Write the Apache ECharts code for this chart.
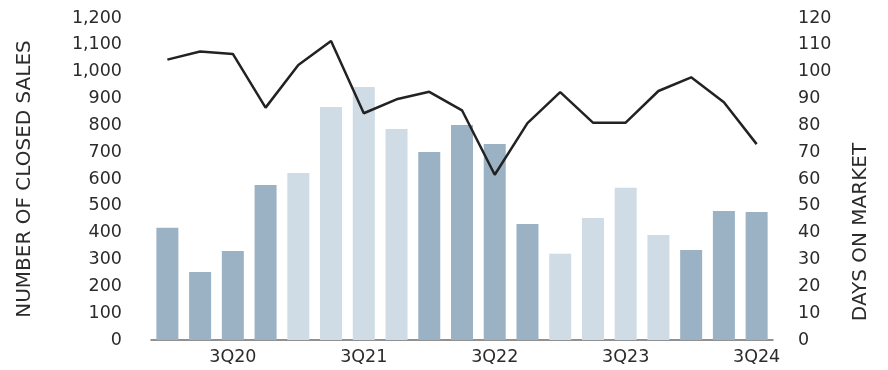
<!DOCTYPE html>
<html>
<head>
<meta charset="utf-8">
<script src="https://cdn.jsdelivr.net/npm/echarts@6/dist/echarts.min.js"></script>
<style>
  html, body { margin: 0; padding: 0; background: #fff; }
  #chart { width: 888px; height: 370px; }
</style>
</head>
<body>
<div id="chart"></div>
<script>
// Quarterly closed sales (bars) and days on market (line), 1Q20 to 3Q24
const quarters = [
  '1Q20', '2Q20', '3Q20', '4Q20',
  '1Q21', '2Q21', '3Q21', '4Q21',
  '1Q22', '2Q22', '3Q22', '4Q22',
  '1Q23', '2Q23', '3Q23', '4Q23',
  '1Q24', '2Q24', '3Q24'
];
const closedSales = [418, 253, 332, 578, 622, 868, 943, 786, 701, 801, 730, 432, 321, 455, 567, 391, 335, 481, 477];
const daysOnMarket = [104.5, 107.5, 106.6, 86.6, 102.5, 111.4, 84.5, 89.7, 92.5, 85.6, 61.6, 80.8, 92.4, 81, 81, 92.8, 97.9, 88.6, 73];
const salesTicks = { min: 0, max: 1200, interval: 100 };
const domTicks = { min: 0, max: 120, interval: 10 };

const darkBar = '#9bb2c4';
const lightBar = '#cfdce5';
// Odd years in the lighter shade
const barColor = (q) => (parseInt(q.slice(2), 10) % 2 === 1 ? lightBar : darkBar);

const font = '"DejaVu Sans", "Noto Sans", sans-serif';
const textColor = '#2b2b2b';

const chart = echarts.init(document.getElementById('chart'));
chart.setOption({
  animation: false,
  grid: { left: 151, right: 115, top: 18, bottom: 30 },
  xAxis: {
    type: 'category',
    data: quarters,
    axisLine: { show: true, lineStyle: { color: '#6e6e6e', width: 1.5 } },
    axisTick: { show: false },
    axisLabel: {
      interval: (i) => i % 4 === 2,
      color: textColor,
      fontFamily: font,
      fontSize: 17.5,
      margin: 8
    }
  },
  yAxis: [
    {
      type: 'value',
      min: salesTicks.min, max: salesTicks.max, interval: salesTicks.interval,
      name: 'NUMBER OF CLOSED SALES',
      nameLocation: 'middle',
      nameGap: 116,
      nameTextStyle: { color: textColor, fontFamily: font, fontSize: 20 },
      axisLine: { show: false },
      axisTick: { show: false },
      splitLine: { show: false },
      axisLabel: { color: textColor, fontFamily: font, fontSize: 17.5, margin: 29 }
    },
    {
      type: 'value',
      position: 'right',
      min: domTicks.min, max: domTicks.max, interval: domTicks.interval,
      name: 'DAYS ON MARKET',
      nameLocation: 'middle',
      nameGap: 78,
      // title sits low on the axis rather than centred
      nameTextStyle: { color: textColor, fontFamily: font, fontSize: 20, padding: [0, 106, 0, 0] },
      axisLine: { show: false },
      axisTick: { show: false },
      splitLine: { show: false },
      axisLabel: { color: textColor, fontFamily: font, fontSize: 17.5, margin: 25 }
    }
  ],
  series: [
    {
      name: 'Closed Sales',
      type: 'bar',
      yAxisIndex: 0,
      barWidth: 22,
      data: closedSales.map((v, i) => ({ value: v, itemStyle: { color: barColor(quarters[i]) } }))
    },
    {
      name: 'Days on Market',
      type: 'line',
      yAxisIndex: 1,
      data: daysOnMarket,
      symbol: 'none',
      lineStyle: { color: '#222222', width: 2.5 },
      z: 5
    }
  ]
});
</script>
</body>
</html>
